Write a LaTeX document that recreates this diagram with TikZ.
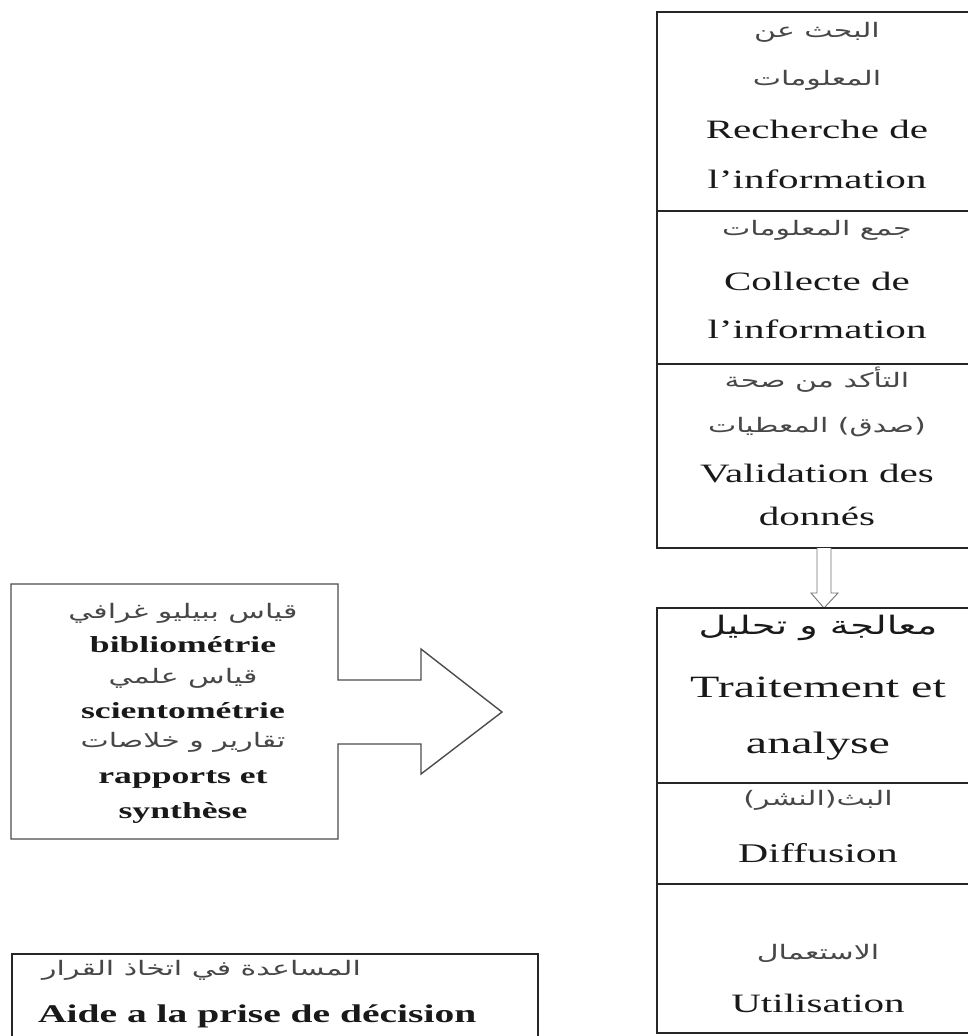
\documentclass[tikz,border=0pt]{standalone}
\usepackage{fontspec}
\setmainfont{Liberation Serif}
\newfontfamily\lat{Liberation Serif}[FakeStretch=1.55]
\newfontfamily\arab{DejaVu Sans}[Script=Arabic,FakeStretch=1.5]
\TeXXeTstate=1
\newcommand\artxt[1]{{\arab\beginR #1\endR}}

\begin{document}
\begin{tikzpicture}[x=1pt,y=-1pt,
  frame/.style={line width=1.8pt, draw=black!85},
  softframe/.style={line width=1.4pt, draw=black!70, line join=miter},
  hollow/.style={line width=0.9pt, draw=black!55, fill=white},
  lt/.style={anchor=base, inner sep=0pt, text=black!90,
    font=\lat\fontsize{26.5}{30}\selectfont},
  ltbig/.style={lt, font=\lat\fontsize{31}{34}\selectfont},
  ltbold/.style={lt, font=\lat\bfseries\fontsize{23}{26}\selectfont},
  artx/.style={inner sep=0pt, text=black!72,
    font=\arab\fontsize{20}{24}\selectfont},
  artxbig/.style={artx, text=black!90, font=\arab\fontsize{25.5}{30}\selectfont}]
\useasboundingbox (0,0) rectangle (968,1036);

% ---- upper stack of steps (open on the right) ----
\coordinate (ua) at (968,12);
\coordinate (ub) at (657,12);
\coordinate (uc) at (657,548);
\coordinate (ud) at (968,548);
\draw[frame] (ua) -- (ub) -- (uc) -- (ud);
\draw[frame] (657,211) -- (968,211);
\draw[frame] (657,364) -- (968,364);

\node[artx] (r1a) at (817,32) {\artxt{البحث عن}};
\node[artx] (r1b) at (817,80) {\artxt{المعلومات}};
\node[lt] (r1c) at (817,138) {Recherche de};
\node[lt] (r1d) at (817,188) {l’information};

\node[artx] (r2a) at (817,230) {\artxt{جمع المعلومات}};
\node[lt] (r2b) at (817,290) {Collecte de};
\node[lt] (r2c) at (817,338) {l’information};

\node[artx] (r3a) at (817,380) {\artxt{التأكد من صحة}};
\node[artx] (r3b) at (817,427) {\artxt{(صدق) المعطيات}};
\node[lt] (r3c) at (817,482) {Validation des};
\node[lt] (r3d) at (817,525) {donnés};

% ---- hollow arrow down to the lower stack ----
\draw[hollow] (817,548) -- (817,593) -- (811,593) -- (824,608)
  -- (838,593) -- (831,593) -- (831,548);

% ---- lower stack of steps ----
\coordinate (la) at (968,608);
\coordinate (lb) at (657,608);
\coordinate (lc) at (657,1033);
\coordinate (ld) at (968,1033);
\draw[frame] (la) -- (lb) -- (lc) -- (ld);
\draw[frame] (657,783) -- (968,783);
\draw[frame] (657,884) -- (968,884);

\node[artxbig] (s1a) at (818,628) {\artxt{معالجة و تحليل}};
\node[ltbig] (s1b) at (818,697) {Traitement et};
\node[ltbig] (s1c) at (818,753) {analyse};

\node[artx] (s2a) at (818,800) {\artxt{البث(النشر)}};
\node[lt, font=\lat\fontsize{27}{30}\selectfont] (s2b) at (818,862) {Diffusion};

\node[artx] (s3a) at (818,953) {\artxt{الاستعمال}};
\node[lt] (s3b) at (818,1012) {Utilisation};

% ---- box of methods with its block arrow ----
\draw[softframe] (338,680) -- (338,584) -- (11,584) -- (11,839) -- (338,839)
  -- (338,744) -- (421,744) -- (421,774) -- (502,712) -- (421,649)
  -- (421,680) -- cycle;

\node[artx] (m1) at (183,613) {\artxt{قياس ببيليو غرافي}};
\node[ltbold] (m2) at (183,652) {bibliométrie};
\node[artx] (m3) at (183,678) {\artxt{قياس علمي}};
\node[ltbold] (m4) at (183,718) {scientométrie};
\node[artx] (m5) at (183,742) {\artxt{تقارير و خلاصات}};
\node[ltbold] (m6) at (183,783) {rapports et};
\node[ltbold] (m7) at (183,818) {synthèse};

% ---- decision support box ----
\draw[frame] (12,1040) -- (12,954) -- (538,954) -- (538,1040);
\node[artx, anchor=west] (d1) at (42,970) {\artxt{المساعدة في اتخاذ القرار}};
\node[ltbold, anchor=base west, font=\lat\bfseries\fontsize{25.5}{28}\selectfont]
  (d2) at (38,1022) {Aide a la prise de décision};
\end{tikzpicture}
\end{document}
